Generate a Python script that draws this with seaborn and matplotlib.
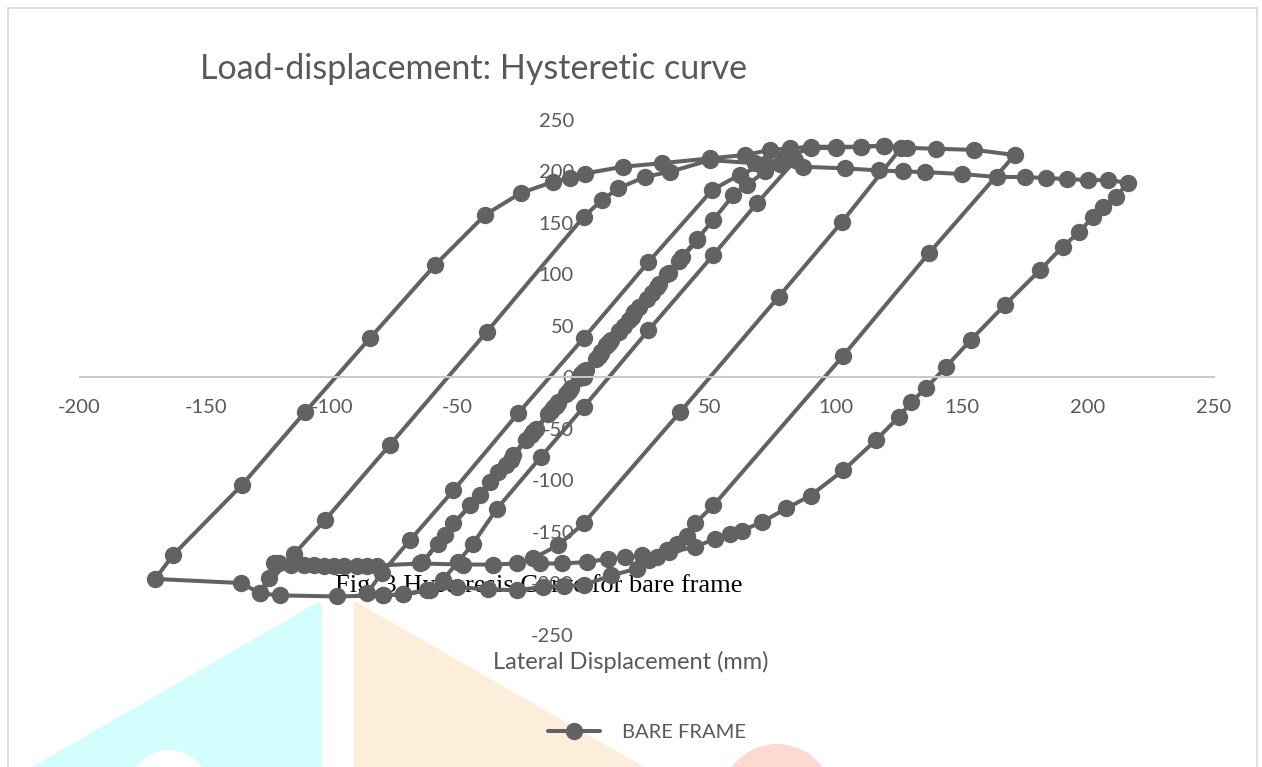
import matplotlib
matplotlib.use("Agg")
import matplotlib.pyplot as plt
import seaborn as sns
import pandas as pd
from matplotlib.patches import Polygon, Rectangle, Ellipse

# ---------------- data ----------------
# elastic small cycles around the origin
disp_elastic = [0, 5, 10, 6, 0, -5, -10, -6, 0,
                7, 14, 20, 14, 7, 0, -7, -14, -20, -13, -6, 1,
                9, 18, 27, 34, 25, 16, 7, -2, -11, -20, -29, -37, -28, -19, -10, 0,
                10, 20, 30, 39, 45, 38, 29, 19, 9, -1, -11, -21, -31, -41, -51.7, -58, -64,
                -55, -45, -34, -23, -12, -1,
                11, 22, 33, 45, 51.4, 59.4, 64.8, 72, 78, 84]
load_elastic = [0, 18, 33, 21, 4, -10, -25, -13, 3,
                24, 44, 62, 45, 25, 5, -16, -36, -53, -33, -13, 7,
                30, 56, 82, 101, 76, 50, 25, -1, -28, -53, -80, -102, -76, -50, -24, 6,
                34, 63, 91, 117, 133, 113, 88, 59, 31, 3, -27, -56, -85, -114, -142, -162, -180,
                -153, -124, -92, -61, -30, 2,
                36, 68, 100, 134, 153, 177, 187, 200, 207, 211]

# unloading from +84 mm and path to the -86 mm peak
disp_c = [68.7, 51.4, 25.7, 0, -17, -34.5, -44, -50, -56, -62, -71.7, -79.7, -86]
load_c = [169, 118.7, 45.7, -29, -77.5, -128, -162, -180, -197, -207, -211, -212, -210]

# reloading from -86 mm up to the +126 mm peak
disp_a = [-80, -69, -51.7, -26, 0, 25.7, 51, 62, 72, 80, 90, 100, 110, 119, 126]
load_a = [-190, -158.6, -110, -35, 38, 112, 182, 197, 207, 214, 222.5, 223, 224, 225, 223]

# unloading from +126 mm down to the -128 mm peak
disp_d = [102.5, 77.3, 38.3, 0, -10, -20, -26.5, -36, -48, -65, -82, -86, -90, -95,
          -99, -103, -107, -111, -116, -121, -123, -125, -128.5]
load_d = [151, 78, -33.7, -142, -163, -176, -181, -182, -182, -181, -183, -183, -183, -183,
          -183, -183, -182, -182, -182, -181, -181, -195, -210]

# reloading from -128 mm up to the +216 mm peak
disp_l2 = [-115, -102.7, -77, -38.5, 0, 7.2, 13.7, 24.4, 34.3, 50, 68, 87, 103.8, 117,
           126.7, 135.6, 150, 164, 175, 183.6, 191.6, 200, 208, 216]
load_l2 = [-172, -139, -66, 44, 156, 172, 183.6, 194.8, 199.7, 211, 208, 204.6, 203, 201,
           200, 199.4, 197.5, 194.6, 194.6, 193.6, 192.6, 191.6, 191.6, 189]

# unloading from +216 mm, then along the bottom to the -170 mm peak
disp_r1 = [211, 206, 202, 196.6, 190, 181, 167, 153.5, 143.7, 136, 130, 125, 116, 103,
           90, 80.4, 70.7, 62.8, 58, 52, 44.2, 34, 26, 21, 11, 0, -8, -16, -26.6, -38,
           -50.4, -61, -71.7, -79.7, -98, -120.6, -128.5, -135.8, -170]
load_r1 = [175, 165.7, 156, 141, 126.8, 104, 70, 36, 10, -10, -24, -38.6, -61, -90.5,
           -115, -127.5, -140.8, -149, -152, -157, -165, -170, -178, -186, -192.6, -202,
           -203, -203.7, -207, -206, -204, -207, -211, -212, -213, -212, -210, -200, -196]

# reloading from -170 mm up to the +171 mm peak
disp_b1 = [-163, -135.7, -110.6, -84.8, -59, -39, -25, -12, -5.4, 0.5, 15.6, 31, 50, 64,
           74, 82, 90, 100, 110, 119, 128.3, 139.6, 155, 171]
load_b1 = [-173, -105, -34, 38, 109, 158, 179, 190, 193.6, 198, 204.6, 208, 212.7, 216,
           221, 222.5, 224, 224, 224, 225, 223, 222, 221, 216]

# final unloading from +171 mm
disp_e = [137, 103, 51.5, 44.2, 41, 37, 33, 29, 23, 16.4, 9.8, 1.2, -8.7, -17.3]
load_e = [120.6, 21, -124.5, -142, -154, -162, -168, -175, -173, -175, -176.4, -179.6, -181, -181]

x_ticks = [-200, -150, -100, -50, 0, 50, 100, 150, 200, 250]
y_ticks = [-250, -200, -150, -100, -50, 0, 50, 100, 150, 200, 250]

series_name = "BARE FRAME"
title_text = "Load-displacement: Hysteretic curve"
xlabel_text = "Lateral Displacement (mm)"
caption_text = "Fig. 3 Hysteresis Curve for bare frame"

disp = (disp_elastic + disp_c + disp_a + disp_d + disp_l2 + disp_r1 + disp_b1 + disp_e)
load = (load_elastic + load_c + load_a + load_d + load_l2 + load_r1 + load_b1 + load_e)
df = pd.DataFrame({"disp": disp, "load": load})

# ---------------- styling ----------------
sns.set_style("white")
plt.rcParams["font.family"] = ["Lato", "DejaVu Sans"]

W, H = 1262, 767
fig = plt.figure(figsize=(W / 100, H / 100), dpi=100)
fig.patch.set_facecolor("white")

def fx(px):
    return px / W

def fy(py):
    return 1 - py / H

# watermark shapes (background)
wm = [
    Polygon([(fx(32), fy(767)), (fx(318), fy(602)), (fx(322), fy(604)), (fx(322), fy(767))],
            closed=True, facecolor="#d4fdfd", edgecolor="none"),
    Polygon([(fx(354), fy(602)), (fx(358), fy(603)), (fx(644), fy(767)), (fx(354), fy(767))],
            closed=True, facecolor="#fdeedc", edgecolor="none"),
]
for p in wm:
    p.set_transform(fig.transFigure)
    p.set_zorder(-2)
    fig.patches.append(p)

for (cx, cy, r, col) in [(169, 790, 40, "white"), (777, 800, 56, "#fdd9d2")]:
    e = Ellipse((fx(cx), fy(cy)), 2 * r / W, 2 * r / H, transform=fig.transFigure,
                facecolor=col, edgecolor="none", zorder=-1.5)
    fig.patches.append(e)

# outer chart border
border = Rectangle((fx(8), fy(800)), fx(1257) - fx(8), fy(8) - fy(800),
                   transform=fig.transFigure, facecolor="none", edgecolor="#d9d9d9",
                   linewidth=1.2, zorder=-1)
fig.patches.append(border)

left, right = 79.6, 1213.8
top, bottom = 120.0, 634.5
ax = fig.add_axes([fx(left), fy(bottom), fx(right) - fx(left), fy(top) - fy(bottom)])
ax.set_facecolor("none")

line_color = "#626262"
sns.lineplot(data=df, x="disp", y="load", sort=False, estimator=None, ax=ax,
             color=line_color, linewidth=2.9, marker="o", markersize=12.5,
             markeredgewidth=0, markerfacecolor=line_color, label=series_name)

ax.set_xlim(-200, 250)
ax.set_ylim(-250, 250)
ax.set_xticks(x_ticks)
ax.set_yticks(y_ticks)
ax.set_xticklabels([str(v) for v in x_ticks])
ax.set_yticklabels([str(v) for v in y_ticks])

for s in ["top", "right"]:
    ax.spines[s].set_visible(False)
ax.spines["bottom"].set_position(("data", 0))
ax.spines["bottom"].set_color("#c8c8c8")
ax.spines["bottom"].set_linewidth(1.4)
ax.spines["left"].set_position(("data", 0))
ax.spines["left"].set_color("none")

ax.tick_params(axis="both", length=0, labelsize=14.5, labelcolor="#595959")
ax.tick_params(axis="x", pad=16)
ax.tick_params(axis="y", pad=7)

ax.set_xlabel(xlabel_text, fontsize=17, color="#595959")
ax.xaxis.set_label_coords((631 - left) / (right - left), (bottom - 651) / (bottom - top))
ax.set_ylabel("")

# title
fig.text(fx(200), fy(79), title_text, fontsize=24.5, color="#595959",
         ha="left", va="baseline")

# caption text that overlaps the plot in the source
ax.text(fx(335), fy(592), caption_text, transform=fig.transFigure,
        family=["Liberation Serif", "DejaVu Serif"], fontsize=19, color="black",
        ha="left", va="baseline", zorder=1.5)

# legend
handles, labels = ax.get_legend_handles_labels()
leg = ax.legend(handles, labels, loc="center", bbox_to_anchor=(fx(647), fy(732)),
                bbox_transform=fig.transFigure, frameon=False, fontsize=14.5,
                handlelength=2.6, handletextpad=1.1, labelcolor="#595959")

fig.savefig("out.png", dpi=100)
